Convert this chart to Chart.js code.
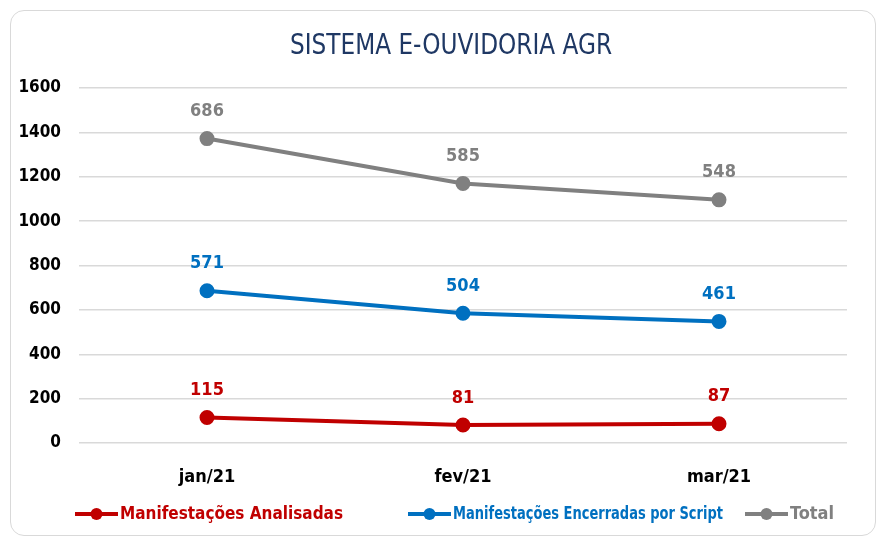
<!DOCTYPE html>
<html>
<head>
<meta charset="utf-8">
<script src="https://cdn.jsdelivr.net/npm/chart.js@4/dist/chart.umd.min.js"></script>
<style>
  html, body { margin: 0; padding: 0; background: #fff; }
  #wrap { position: relative; width: 884px; height: 540px; }
  #frame {
    position: absolute; left: 10px; top: 10px; width: 866px; height: 526px;
    border: 1px solid #d9d9d9; border-radius: 14px; box-sizing: border-box;
  }
  canvas { position: absolute; left: 0; top: 0; }
</style>
</head>
<body>
<div id="wrap">
  <div id="frame"></div>
  <canvas id="chart" width="884" height="540"></canvas>
</div>
<script>
const FONT = '"DejaVu Sans Condensed", "DejaVu Sans", sans-serif';

const months = ['jan/21', 'fev/21', 'mar/21'];
const analisadas = [115, 81, 87];
const encerradas = [571, 504, 461];
const total = [686, 585, 548];
const yTicks = [0, 200, 400, 600, 800, 1000, 1200, 1400, 1600];

const seriesColors = ['#c00000', '#0070c0', '#808080'];

// Excel stacked line: each series sits on top of the previous ones,
// while the label shows the raw value.
const valueLabels = {
    id: 'valueLabels',
    afterDatasetsDraw(chart) {
        const ctx = chart.ctx;
        ctx.save();
        ctx.textAlign = 'center';
        ctx.textBaseline = 'middle';
        ctx.font = 'bold 18px ' + FONT;
        chart.data.datasets.forEach((ds, i) => {
            const meta = chart.getDatasetMeta(i);
            ctx.fillStyle = ds.borderColor;
            meta.data.forEach((pt, j) => {
                ctx.fillText(String(ds.data[j]), pt.x, pt.y - 27);
            });
        });
        ctx.restore();
    }
};

const titleAndLegend = {
    id: 'titleAndLegend',
    afterDraw(chart) {
        const ctx = chart.ctx;
        ctx.save();
        ctx.fillStyle = '#1f3864';
        ctx.font = '28px ' + FONT;
        ctx.textAlign = 'center';
        ctx.textBaseline = 'middle';
        ctx.fillText('SISTEMA E-OUVIDORIA AGR', 451, 47, 322);

        const items = [
            { x: 75, ds: 0, w: 223 },
            { x: 408, ds: 1, w: 270 },
            { x: 745, ds: 2, w: 44 }
        ];
        const y = 514;
        ctx.font = 'bold 18px ' + FONT;
        ctx.textAlign = 'left';
        items.forEach(it => {
            const ds = chart.data.datasets[it.ds];
            ctx.strokeStyle = ds.borderColor;
            ctx.fillStyle = ds.borderColor;
            ctx.lineWidth = 4;
            ctx.beginPath();
            ctx.moveTo(it.x, y);
            ctx.lineTo(it.x + 43, y);
            ctx.stroke();
            ctx.beginPath();
            ctx.arc(it.x + 21.5, y, 6, 0, Math.PI * 2);
            ctx.fill();
            ctx.fillText(ds.label, it.x + 45, y, it.w);
        });
        ctx.restore();
    }
};

function makeSeries(label, data, color) {
    return {
        label: label,
        data: data,
        borderColor: color,
        backgroundColor: color,
        borderWidth: 4,
        pointRadius: 5.5,
        pointHoverRadius: 5.5,
        tension: 0,
        fill: false
    };
}

new Chart(document.getElementById('chart'), {
    type: 'line',
    data: {
        labels: months,
        datasets: [
            makeSeries('Manifestações Analisadas', analisadas, seriesColors[0]),
            makeSeries('Manifestações Encerradas por Script', encerradas, seriesColors[1]),
            makeSeries('Total', total, seriesColors[2])
        ]
    },
    options: {
        responsive: false,
        animation: false,
        layout: { padding: { left: 0, right: 37, top: 88, bottom: 0 } },
        plugins: {
            legend: { display: false },
            title: { display: false },
            tooltip: { enabled: false }
        },
        scales: {
            x: {
                offset: true,
                grid: { display: false },
                border: { display: false },
                ticks: {
                    color: '#000',
                    font: { family: FONT, size: 18, weight: 'bold' },
                    padding: 16
                },
                afterFit(scale) { scale.height = 97; }
            },
            y: {
                stacked: true,
                min: 0,
                max: 1600,
                afterBuildTicks(scale) { scale.ticks = yTicks.map(v => ({ value: v })); },
                grid: { color: '#d9d9d9', lineWidth: 1.5, drawTicks: false },
                border: { display: false },
                ticks: {
                    color: '#000',
                    font: { family: FONT, size: 17, weight: 'bold' },
                    padding: 18,
                    callback: v => String(v)
                },
                afterFit(scale) { scale.width = 79; }
            }
        }
    },
    plugins: [valueLabels, titleAndLegend]
});
</script>
</body>
</html>
